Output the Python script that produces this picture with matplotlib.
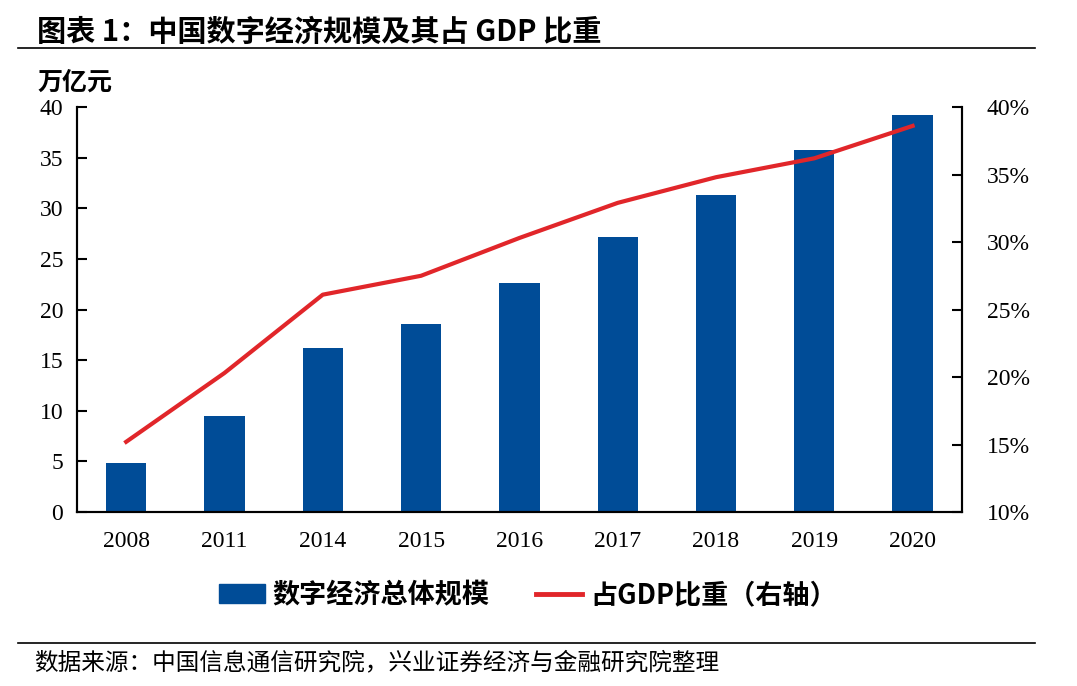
import matplotlib
matplotlib.use("Agg")
import matplotlib.pyplot as plt
from matplotlib.patches import Patch
from matplotlib.lines import Line2D
from matplotlib.ticker import FuncFormatter

years = ["2008", "2011", "2014", "2015", "2016", "2017", "2018", "2019", "2020"]
scale = [4.8, 9.5, 16.2, 18.6, 22.6, 27.2, 31.3, 35.8, 39.2]      # 万亿元
share = [15.2, 20.3, 26.1, 27.5, 30.3, 32.9, 34.8, 36.2, 38.6]     # % of GDP

blue = "#004C97"
red = "#E1262A"
serif = ["Liberation Serif", "Noto Sans CJK SC"]
cjk = ["Noto Sans CJK SC", "DejaVu Sans"]

fig = plt.figure(figsize=(10.77, 6.86), dpi=100)
ax = fig.add_axes([0.0715, 0.2536, 0.8215, 0.5904])
ax2 = ax.twinx()

x = list(range(len(years)))
ax.bar(x, scale, width=0.41, color=blue, zorder=2)
ax2.plot(x, share, color=red, lw=3, zorder=3)

ax.set_xlim(-0.5, len(years) - 0.5)
ax.set_ylim(0, 40)
ax.set_yticks(range(0, 41, 5))
ax2.set_ylim(10, 40)
ax2.set_yticks(range(10, 41, 5))
ax2.yaxis.set_major_formatter(FuncFormatter(lambda v, p: f"{v:.0f}%"))

ax.set_xticks(x)
ax.set_xticklabels(years)
for a in (ax, ax2):
    a.spines["top"].set_visible(False)
    for s in a.spines.values():
        s.set_linewidth(1.5)
    a.tick_params(direction="in", length=7, width=1.5, labelsize=17)
    for lab in a.get_xticklabels() + a.get_yticklabels():
        lab.set_family(serif)
ax.tick_params(axis="x", length=0, pad=14)
ax.tick_params(axis="y", pad=10)
ax2.tick_params(axis="y", pad=18)
ax2.set_zorder(ax.get_zorder() + 1)
ax2.patch.set_visible(False)

fig.text(0.035, 0.879, "万亿元", family=cjk, fontsize=18, fontweight="bold", va="center")

# title
fig.text(0.034, 0.953, "图表 1：中国数字经济规模及其占 GDP 比重", family=cjk,
         fontsize=21, fontweight="bold", va="center")
fig.add_artist(Line2D([0.017, 0.961], [0.930, 0.930], color="black", lw=1.2))

# legend
handles = [Patch(color=blue), Line2D([], [], color=red, lw=3.5)]
fig.legend(handles, ["数字经济总体规模", "占GDP比重（右轴）"], loc="center",
           bbox_to_anchor=(0.49, 0.132), ncol=2, frameon=False,
           prop={"family": cjk, "size": 19.5, "weight": "bold"},
           handlelength=1.7, handletextpad=0.3, columnspacing=1.7)

# source
fig.add_artist(Line2D([0.017, 0.961], [0.063, 0.063], color="black", lw=1.2))
fig.text(0.032, 0.034, "数据来源：中国信息通信研究院，兴业证券经济与金融研究院整理",
         family=cjk, fontsize=17, va="center")

fig.savefig("out.png", dpi=100)
